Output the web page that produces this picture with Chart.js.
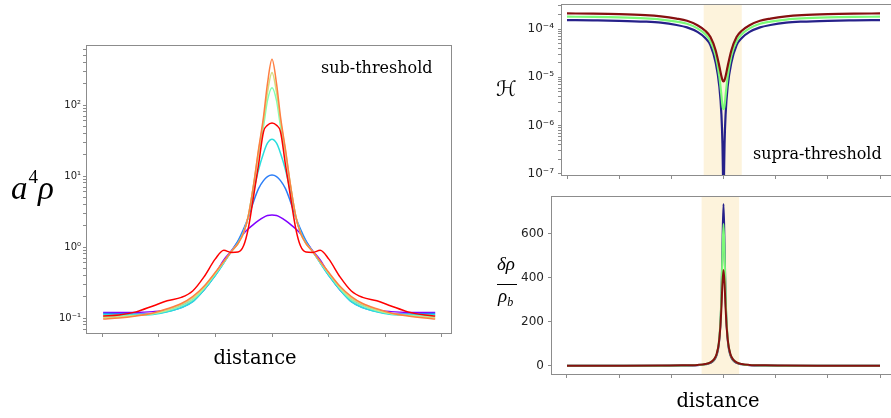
<!DOCTYPE html>
<html>
<head>
<meta charset="utf-8">
<script src="https://cdn.jsdelivr.net/npm/chart.js@4.4.1/dist/chart.umd.min.js"></script>
<style>
  html, body { margin: 0; padding: 0; background: #fff; width: 891px; height: 418px; overflow: hidden; position: relative; }
  .box { position: absolute; }
  .soft { filter: blur(0.4px); }
  .lbl { position: absolute; white-space: nowrap; line-height: 1; color: #000; }
  .serif { font-family: "DejaVu Serif", serif; }
  .math { font-family: "Liberation Serif", serif; font-style: italic; }
</style>
</head>
<body>
<div class="box" style="left:0;top:0;width:470px;height:418px"><canvas id="subChart"></canvas></div>
<div class="box soft" style="left:480px;top:0;width:420px;height:190px"><canvas id="hChart"></canvas></div>
<div class="box soft" style="left:480px;top:190px;width:420px;height:200px"><canvas id="dChart"></canvas></div>

<div class="lbl math" style="left:11px;top:172px;font-size:33px">a<span style="font-style:normal;font-size:19px;position:relative;top:-16px;margin-left:1px">4</span>ρ</div>
<div class="lbl serif" style="left:155px;top:348px;width:200px;text-align:center;font-size:19.5px">distance</div>
<div class="lbl serif" style="left:321px;top:60px;font-size:16px">sub-threshold</div>

<div class="lbl" style="left:496px;top:79px;font-size:21px;font-family:'DejaVu Serif','DejaVu Sans',serif">ℋ</div>
<div class="lbl math" style="left:497px;top:254px;font-size:19px">δρ</div>
<div class="lbl" style="left:497px;top:283.5px;width:20px;height:0;border-top:1.3px solid #000"></div>
<div class="lbl math" style="left:498px;top:286px;font-size:19px">ρ<span style="font-size:12px;position:relative;top:4px">b</span></div>
<div class="lbl serif" style="left:753px;top:146px;font-size:16px">supra-threshold</div>
<div class="lbl serif" style="left:618px;top:391px;width:200px;text-align:center;font-size:19.5px">distance</div>

<script>
// ---------- sub-threshold runs: a^4 rho against distance ----------
const subDistance = [-2.98,-2.7,-2.4,-2.1,-1.85,-1.6,-1.4,-1.2,-1.0,-0.85,-0.72,-0.6,-0.5,-0.42,-0.32,-0.24,-0.15,-0.08,0,
                     0.08,0.15,0.24,0.32,0.42,0.5,0.6,0.72,0.85,1.0,1.2,1.4,1.6,1.85,2.1,2.4,2.7,2.88];
const subPurple = [0.12,0.12,0.12,0.123,0.13,0.15,0.18,0.25,0.42,0.66,0.88,1.2,1.55,1.8,2.1,2.35,2.62,2.78,2.82,
                   2.78,2.62,2.35,2.1,1.8,1.55,1.2,0.88,0.66,0.42,0.25,0.18,0.15,0.13,0.123,0.12,0.12,0.12];
const subBlue   = [0.116,0.115,0.114,0.115,0.123,0.14,0.17,0.25,0.4,0.6,0.86,1.22,1.8,2.6,4.5,6.6,8.6,9.8,10.3,
                   9.8,8.6,6.6,4.5,2.6,1.8,1.22,0.86,0.6,0.4,0.25,0.17,0.14,0.123,0.115,0.114,0.115,0.116];
const subCyan   = [0.112,0.11,0.11,0.112,0.122,0.14,0.17,0.25,0.4,0.6,0.86,1.15,1.65,2.6,6.3,12,21,29,33,
                   29,21,12,6.3,2.6,1.65,1.15,0.86,0.6,0.4,0.25,0.17,0.14,0.122,0.112,0.11,0.11,0.112];
const subGreen  = [0.105,0.106,0.109,0.115,0.126,0.148,0.18,0.26,0.42,0.61,0.86,1.12,1.6,2.7,7.8,20,50,115,175,
                   115,50,20,7.8,2.7,1.6,1.12,0.86,0.61,0.42,0.26,0.18,0.148,0.126,0.115,0.109,0.106,0.105];
const subKhaki  = [0.101,0.103,0.108,0.116,0.13,0.155,0.19,0.27,0.43,0.62,0.86,1.12,1.6,2.7,8,22,60,150,288,
                   150,60,22,8,2.7,1.6,1.12,0.86,0.62,0.43,0.27,0.19,0.155,0.13,0.116,0.108,0.103,0.101];
const subOrange = [0.097,0.1,0.107,0.118,0.135,0.16,0.2,0.28,0.44,0.63,0.86,1.12,1.6,2.7,8,23,68,200,440,
                   200,68,23,8,2.7,1.6,1.12,0.86,0.63,0.44,0.28,0.2,0.16,0.135,0.118,0.107,0.1,0.097];
const subRed    = [0.107,0.11,0.122,0.148,0.175,0.195,0.24,0.38,0.68,0.9,0.84,0.85,1.05,1.8,5.5,14,42,52,56,
                   52,42,14,5.5,1.8,1.05,0.85,0.84,0.9,0.68,0.38,0.24,0.195,0.175,0.148,0.122,0.11,0.107];
const subTickValues = [0.1, 1, 10, 100];
const subTickLabels = ['10⁻¹', '10⁰', '10¹', '10²'];
const subMinorTicks = [0.07,0.08,0.09,0.2,0.3,0.4,0.5,0.6,0.7,0.8,0.9,2,3,4,5,6,7,8,9,20,30,40,50,60,70,80,90,200,300,400,500,600];

// ---------- supra-threshold runs: Hubble-like quantity H ----------
const hDistance = [-3,-2.5,-2,-1.5,-1.2,-0.9,-0.7,-0.5,-0.35,-0.25,-0.15,-0.08,-0.04,-0.02,-0.01,0,
                   0.01,0.02,0.04,0.08,0.15,0.25,0.35,0.5,0.7,0.9,1.2,1.5,2,2.5,3];
const hRed   = [2.1e-4,2.08e-4,2.03e-4,1.93e-4,1.82e-4,1.64e-4,1.48e-4,1.2e-4,9.2e-5,6.8e-5,3.6e-5,1.7e-5,1.05e-5,8.8e-6,8.3e-6,8.2e-6,
                8.3e-6,8.8e-6,1.05e-5,1.7e-5,3.6e-5,6.8e-5,9.2e-5,1.2e-4,1.48e-4,1.64e-4,1.82e-4,1.93e-4,2.03e-4,2.08e-4,2.1e-4];
const hGreen = [1.8e-4,1.78e-4,1.74e-4,1.66e-4,1.57e-4,1.42e-4,1.28e-4,1.03e-4,7.8e-5,5.6e-5,2.8e-5,1.05e-5,4.2e-6,2.6e-6,2.3e-6,2.2e-6,
                2.3e-6,2.6e-6,4.2e-6,1.05e-5,2.8e-5,5.6e-5,7.8e-5,1.03e-4,1.28e-4,1.42e-4,1.57e-4,1.66e-4,1.74e-4,1.78e-4,1.8e-4];
const hNavy  = [1.53e-4,1.51e-4,1.48e-4,1.42e-4,1.35e-4,1.21e-4,1.08e-4,8.7e-5,6.5e-5,4.6e-5,2.0e-5,6.5e-6,1.7e-6,4.2e-7,1.0e-7,2e-8,
                1.0e-7,4.2e-7,1.7e-6,6.5e-6,2.0e-5,4.6e-5,6.5e-5,8.7e-5,1.08e-4,1.21e-4,1.35e-4,1.42e-4,1.48e-4,1.51e-4,1.53e-4];
const hTickValues = [1e-7, 1e-6, 1e-5, 1e-4];
const hTickLabels = ['10⁻⁷', '10⁻⁶', '10⁻⁵', '10⁻⁴'];
const hMinorTicks = [2e-7,3e-7,4e-7,5e-7,6e-7,7e-7,8e-7,9e-7,2e-6,3e-6,4e-6,5e-6,6e-6,7e-6,8e-6,9e-6,
                     2e-5,3e-5,4e-5,5e-5,6e-5,7e-5,8e-5,9e-5,2e-4,3e-4];

// ---------- supra-threshold runs: density contrast ----------
const dDistance = [-3,-2,-1.2,-0.8,-0.5,-0.35,-0.25,-0.18,-0.13,-0.09,-0.06,-0.04,-0.02,0,
                   0.02,0.04,0.06,0.09,0.13,0.18,0.25,0.35,0.5,0.8,1.2,2,3];
const dRed   = [1.0,1.2,1.8,2.8,5,8.7,16.5,31,56,103,179,266,376,436,376,266,179,103,56,31,16.5,8.7,5,2.8,1.8,1.2,1.0];
const dGreen = [0.8,1.0,1.5,2.4,4.1,8.3,16,30,55,105,199,322,516,645,516,322,199,105,55,30,16,8.3,4.1,2.4,1.5,1.0,0.8];
const dNavy  = [0.7,0.9,1.3,2.2,3.6,7.3,14,27,50,97,187,318,555,736,555,318,187,97,50,27,14,7.3,3.6,2.2,1.3,0.9,0.7];
const dTickValues = [0, 200, 400, 600];
const dTickLabels = ['0', '200', '400', '600'];

const distanceTicks = [-3, -2, -1, 0, 1, 2, 3];
const shadeH = [-0.38, 0.35];
const shadeD = [-0.42, 0.30];

// ---------- helpers ----------
const AXIS_GREY = '#8c8c8c';
const toPoints = (xs, ys) => xs.map((x, i) => ({ x: x, y: ys[i] }));

// pale band behind the curves, placed through the x scale
const shadePlugin = {
  id: 'shade',
  beforeDatasetsDraw(chart, args, opts) {
    if (!opts || !opts.range) return;
    const { ctx, chartArea: a, scales } = chart;
    const x0 = scales.x.getPixelForValue(opts.range[0]);
    const x1 = scales.x.getPixelForValue(opts.range[1]);
    ctx.save();
    ctx.fillStyle = opts.color;
    ctx.fillRect(x0, a.top, x1 - x0, a.bottom - a.top);
    ctx.restore();
  }
};

// box around the plotting area on all four sides
const framePlugin = {
  id: 'frame',
  afterDraw(chart) {
    const { ctx, chartArea: a } = chart;
    ctx.save();
    ctx.strokeStyle = AXIS_GREY;
    ctx.lineWidth = 1;
    ctx.strokeRect(Math.round(a.left) - 0.5, Math.round(a.top) - 0.5,
                   Math.round(a.right - a.left) + 1, Math.round(a.bottom - a.top) + 1);
    ctx.restore();
  }
};

function sameValue(a, b) {
  if (a === 0 || b === 0) return a === b;
  return Math.abs(Math.log10(Math.abs(a)) - Math.log10(Math.abs(b))) < 1e-6;
}

function buildChart(id, cfg) {
  const allTicks = cfg.yTicks.concat(cfg.yMinor || []).sort((p, q) => p - q);
  return new Chart(document.getElementById(id), {
    type: 'line',
    data: {
      datasets: cfg.series.map(s => ({
        data: toPoints(cfg.xs, s.values),
        borderColor: s.color,
        borderWidth: cfg.lineWidth,
        pointRadius: 0,
        fill: false,
        cubicInterpolationMode: 'monotone',
        order: s.order
      }))
    },
    options: {
      responsive: true,
      maintainAspectRatio: false,
      animation: false,
      events: [],
      layout: { padding: cfg.padding },
      plugins: {
        legend: { display: false },
        tooltip: { enabled: false },
        shade: cfg.shade ? { range: cfg.shade, color: '#fdf3dc' } : {}
      },
      scales: {
        x: {
          type: 'linear',
          bounds: 'data',
          min: cfg.xMin,
          max: cfg.xMax,
          afterBuildTicks: s => { s.ticks = distanceTicks.map(v => ({ value: v })); },
          afterFit: s => { s.height = cfg.xHeight; s.paddingLeft = s.paddingRight = s.paddingTop = s.paddingBottom = 0; },
          ticks: { display: false },
          grid: { display: true, drawOnChartArea: false, drawTicks: true, tickLength: 4, color: AXIS_GREY, tickColor: AXIS_GREY },
          border: { display: false }
        },
        y: {
          type: cfg.yType,
          bounds: 'data',
          min: cfg.yMin,
          max: cfg.yMax,
          afterBuildTicks: s => { s.ticks = allTicks.map(v => ({ value: v })); },
          afterFit: s => { s.width = cfg.yWidth; s.paddingLeft = s.paddingRight = s.paddingTop = s.paddingBottom = 0; },
          ticks: {
            autoSkip: false,
            padding: cfg.tickPad,
            color: '#222',
            font: { family: 'DejaVu Sans', size: cfg.tickSize },
            callback: v => {
              const i = cfg.yTicks.findIndex(t => sameValue(t, v));
              return i < 0 ? '' : cfg.yLabels[i];
            }
          },
          grid: { display: true, drawOnChartArea: false, drawTicks: true, tickLength: 4, color: AXIS_GREY, tickColor: AXIS_GREY },
          border: { display: false }
        }
      }
    },
    plugins: [shadePlugin, framePlugin]
  });
}

// left panel
buildChart('subChart', {
  xs: subDistance,
  series: [
    { values: subPurple, color: '#8000ff', order: 7 },
    { values: subBlue,   color: '#2c7ef7', order: 6 },
    { values: subCyan,   color: '#2adddd', order: 5 },
    { values: subGreen,  color: '#80ffb4', order: 4 },
    { values: subKhaki,  color: '#d4dd80', order: 3 },
    { values: subOrange, color: '#ff7f41', order: 2 },
    { values: subRed,    color: '#ff0000', order: 1 }
  ],
  lineWidth: 1.5,
  padding: { left: 0, top: 46, right: 19, bottom: 0 },
  xMin: -3.265, xMax: 3.159, xHeight: 85,
  yType: 'logarithmic', yMin: 0.0615, yMax: 678, yWidth: 87,
  yTicks: subTickValues, yLabels: subTickLabels, yMinor: subMinorTicks,
  tickSize: 10, tickPad: 2
});

// right top panel
buildChart('hChart', {
  xs: hDistance,
  series: [
    { values: hNavy,  color: '#26218a', order: 3 },
    { values: hGreen, color: '#7cfa78', order: 2 },
    { values: hRed,   color: '#861010', order: 1 }
  ],
  lineWidth: 2.2,
  padding: { left: 0, top: 5, right: 5, bottom: 0 },
  xMin: -3.096, xMax: 3.2875, xHeight: 15,
  yType: 'logarithmic', yMin: 9.5e-8, yMax: 3.14e-4, yWidth: 82,
  yTicks: hTickValues, yLabels: hTickLabels, yMinor: hMinorTicks,
  tickSize: 12, tickPad: 4,
  shade: shadeH
});

// right bottom panel
buildChart('dChart', {
  xs: dDistance,
  series: [
    { values: dNavy,  color: '#26218a', order: 3 },
    { values: dGreen, color: '#7cfa78', order: 2 },
    { values: dRed,   color: '#861010', order: 1 }
  ],
  lineWidth: 2,
  padding: { left: 0, top: 7, right: 5, bottom: 0 },
  xMin: -3.2875, xMax: 3.2875, xHeight: 16,
  yType: 'linear', yMin: -36.4, yMax: 768, yWidth: 72,
  yTicks: dTickValues, yLabels: dTickLabels, yMinor: [],
  tickSize: 12, tickPad: 4,
  shade: shadeD
});
</script>
</body>
</html>
